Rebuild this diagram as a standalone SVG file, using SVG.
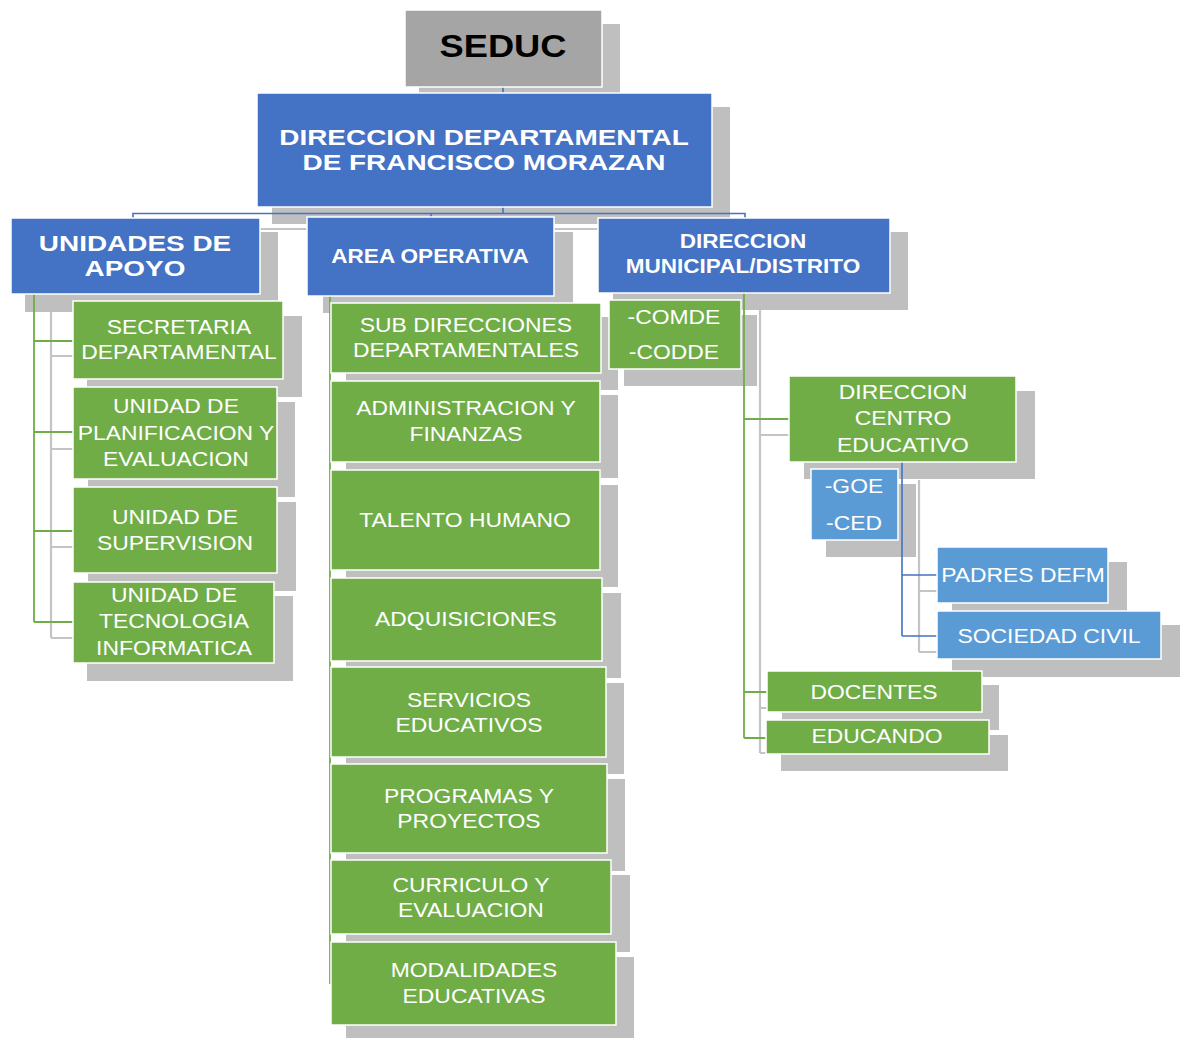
<svg xmlns="http://www.w3.org/2000/svg" width="1181" height="1039" viewBox="0 0 1181 1039">
<style>
.sh{fill:#BFBFBF}
.bx{stroke:#fff;stroke-width:1.5}
.gy{fill:#A5A5A5}
.bl{fill:#4472C4}
.gr{fill:#70AD47}
.lb{fill:#5B9BD5}
text{text-anchor:middle;fill:#fff;transform-box:fill-box;transform-origin:center;transform:scaleX(1.09)}
.tb{font-family:"Liberation Sans",Arial,sans-serif;font-weight:bold;font-size:22px;transform:scaleX(1.27)}
.ts{font-family:"Liberation Sans",Arial,sans-serif;font-weight:bold;font-size:31px;fill:#000;transform:scaleX(1.17)}
.tob{font-family:"Liberation Sans",Arial,sans-serif;font-weight:bold;font-size:20.5px;transform:scaleX(1.1)}
.tn{font-family:"Liberation Sans",Arial,sans-serif;font-size:21px}
.cb{fill:none;stroke:#4472C4;stroke-width:1.6}
.cg{fill:none;stroke:#70AD47;stroke-width:1.8}
.cs{fill:none;stroke:#C4C4C4;stroke-width:2.2}
</style>
<rect width="1181" height="1039" fill="#fff"/>
<g id="connector-shadows">
<path class="cs" d="M148,229H760"/>
<path class="cs" d="M51,312V638M51,356H73M51,449H73M51,547H73M51,638H73"/>
<path class="cs" d="M760,310V753M760,435H789M760,708H767M760,753H766"/>
<path class="cs" d="M919,480V652M919,591H937M919,652H937"/>
</g>
<g id="shadows">
<rect class="sh" x="419" y="24" width="201" height="77"/>
<rect class="sh" x="272" y="107" width="458" height="117"/>
<rect class="sh" x="25" y="232" width="253" height="80"/>
<rect class="sh" x="323" y="232" width="250" height="81"/>
<rect class="sh" x="613" y="232" width="295" height="78"/>
<rect class="sh" x="87" y="316" width="215" height="81"/>
<rect class="sh" x="88" y="402" width="207" height="95"/>
<rect class="sh" x="88" y="502" width="208" height="89"/>
<rect class="sh" x="87" y="596" width="206" height="85"/>
<rect class="sh" x="346" y="317" width="272" height="73"/>
<rect class="sh" x="346" y="395" width="272" height="83"/>
<rect class="sh" x="346" y="485" width="272" height="102"/>
<rect class="sh" x="346" y="593" width="275" height="85"/>
<rect class="sh" x="346" y="683" width="278" height="91"/>
<rect class="sh" x="346" y="779" width="279" height="92"/>
<rect class="sh" x="346" y="875" width="284" height="77"/>
<rect class="sh" x="346" y="957" width="288" height="81"/>
<rect class="sh" x="624" y="315" width="133" height="71"/>
<rect class="sh" x="804" y="391" width="231" height="88"/>
<rect class="sh" x="826" y="484" width="90" height="73"/>
<rect class="sh" x="952" y="562" width="175" height="56"/>
<rect class="sh" x="952" y="625" width="228" height="52"/>
<rect class="sh" x="782" y="685" width="217" height="45"/>
<rect class="sh" x="781" y="735" width="227" height="36"/>
</g>
<g id="connectors">
<path class="cb" d="M503,87V93M503,207V213.5M133,218V213.5H745V218M431,213.5V218"/>
<path class="cg" d="M34,294V622M34,341H73M34,432H73M34,531H73M34,622H73"/>
<path class="cg" d="M330,296V984"/>
<path class="cg" d="M744,293V738M744,419H789M744,692H767M744,738H766"/>
<path class="cb" d="M902,462V636M902,575H937M902,636H937"/>
</g>
<g id="seduc"><rect class="bx gy" x="405" y="10" width="197" height="77"/><text class="ts" x="503" y="57">SEDUC</text></g>
<g id="direccion-departamental"><rect class="bx bl" x="257" y="93" width="455" height="114"/><text class="tb" x="484" y="145">DIRECCION DEPARTAMENTAL<tspan x="484" dy="25">DE FRANCISCO MORAZAN</tspan></text></g>
<g id="unidades-apoyo"><rect class="bx bl" x="11" y="218" width="249" height="76"/><text class="tb" x="135" y="251">UNIDADES DE<tspan x="135" dy="25">APOYO</tspan></text></g>
<g id="area-operativa"><rect class="bx bl" x="307" y="217" width="247" height="79"/><text class="tob" x="430" y="263">AREA OPERATIVA</text></g>
<g id="direccion-municipal"><rect class="bx bl" x="598" y="218" width="292" height="75"/><text class="tob" x="743" y="248">DIRECCION<tspan x="743" dy="25">MUNICIPAL/DISTRITO</tspan></text></g>
<g id="secretaria"><rect class="bx gr" x="73" y="301" width="210" height="78"/><text class="tn" x="179" y="334">SECRETARIA<tspan x="179" dy="25">DEPARTAMENTAL</tspan></text></g>
<g id="planificacion"><rect class="bx gr" x="73" y="387" width="204" height="92"/><text class="tn" x="176" y="413">UNIDAD DE<tspan x="176" dy="27">PLANIFICACION Y</tspan><tspan x="176" dy="26">EVALUACION</tspan></text></g>
<g id="supervision"><rect class="bx gr" x="73" y="487" width="204" height="86"/><text class="tn" x="175" y="524">UNIDAD DE<tspan x="175" dy="26">SUPERVISION</tspan></text></g>
<g id="tecnologia"><rect class="bx gr" x="73" y="582" width="201" height="81"/><text class="tn" x="174" y="602">UNIDAD DE<tspan x="174" dy="26">TECNOLOGIA</tspan><tspan x="174" dy="27">INFORMATICA</tspan></text></g>
<g id="sub-direcciones"><rect class="bx gr" x="331" y="303" width="270" height="70"/><text class="tn" x="466" y="332">SUB DIRECCIONES<tspan x="466" dy="25">DEPARTAMENTALES</tspan></text></g>
<g id="administracion"><rect class="bx gr" x="331" y="381" width="269" height="81"/><text class="tn" x="466" y="415">ADMINISTRACION Y<tspan x="466" dy="26">FINANZAS</tspan></text></g>
<g id="talento"><rect class="bx gr" x="331" y="470" width="269" height="100"/><text class="tn" x="465" y="527">TALENTO HUMANO</text></g>
<g id="adquisiciones"><rect class="bx gr" x="331" y="578" width="271" height="83"/><text class="tn" x="466" y="626">ADQUISICIONES</text></g>
<g id="servicios"><rect class="bx gr" x="331" y="667" width="275" height="90"/><text class="tn" x="469" y="707">SERVICIOS<tspan x="469" dy="25">EDUCATIVOS</tspan></text></g>
<g id="programas"><rect class="bx gr" x="331" y="764" width="276" height="89"/><text class="tn" x="469" y="803">PROGRAMAS Y<tspan x="469" dy="25">PROYECTOS</tspan></text></g>
<g id="curriculo"><rect class="bx gr" x="331" y="860" width="280" height="74"/><text class="tn" x="471" y="892">CURRICULO Y<tspan x="471" dy="25">EVALUACION</tspan></text></g>
<g id="modalidades"><rect class="bx gr" x="331" y="942" width="285" height="83"/><text class="tn" x="474" y="977">MODALIDADES<tspan x="474" dy="26">EDUCATIVAS</tspan></text></g>
<g id="comde"><rect class="bx gr" x="609" y="300" width="132" height="69"/><text class="tn" x="674" y="324">-COMDE<tspan x="674" dy="35">-CODDE</tspan></text></g>
<g id="direccion-centro"><rect class="bx gr" x="789" y="376" width="227" height="86"/><text class="tn" x="903" y="399">DIRECCION<tspan x="903" dy="26">CENTRO</tspan><tspan x="903" dy="27">EDUCATIVO</tspan></text></g>
<g id="goe"><rect class="bx lb" x="811" y="469" width="87" height="71"/><text class="tn" x="854" y="493">-GOE<tspan x="854" dy="37">-CED</tspan></text></g>
<g id="padres"><rect class="bx lb" x="937" y="547" width="171" height="56"/><text class="tn" x="1023" y="582">PADRES DEFM</text></g>
<g id="sociedad"><rect class="bx lb" x="937" y="611" width="224" height="48"/><text class="tn" x="1049" y="643">SOCIEDAD CIVIL</text></g>
<g id="docentes"><rect class="bx gr" x="767" y="671" width="215" height="41"/><text class="tn" x="874" y="699">DOCENTES</text></g>
<g id="educando"><rect class="bx gr" x="766" y="720" width="223" height="34"/><text class="tn" x="877" y="743">EDUCANDO</text></g>
</svg>
